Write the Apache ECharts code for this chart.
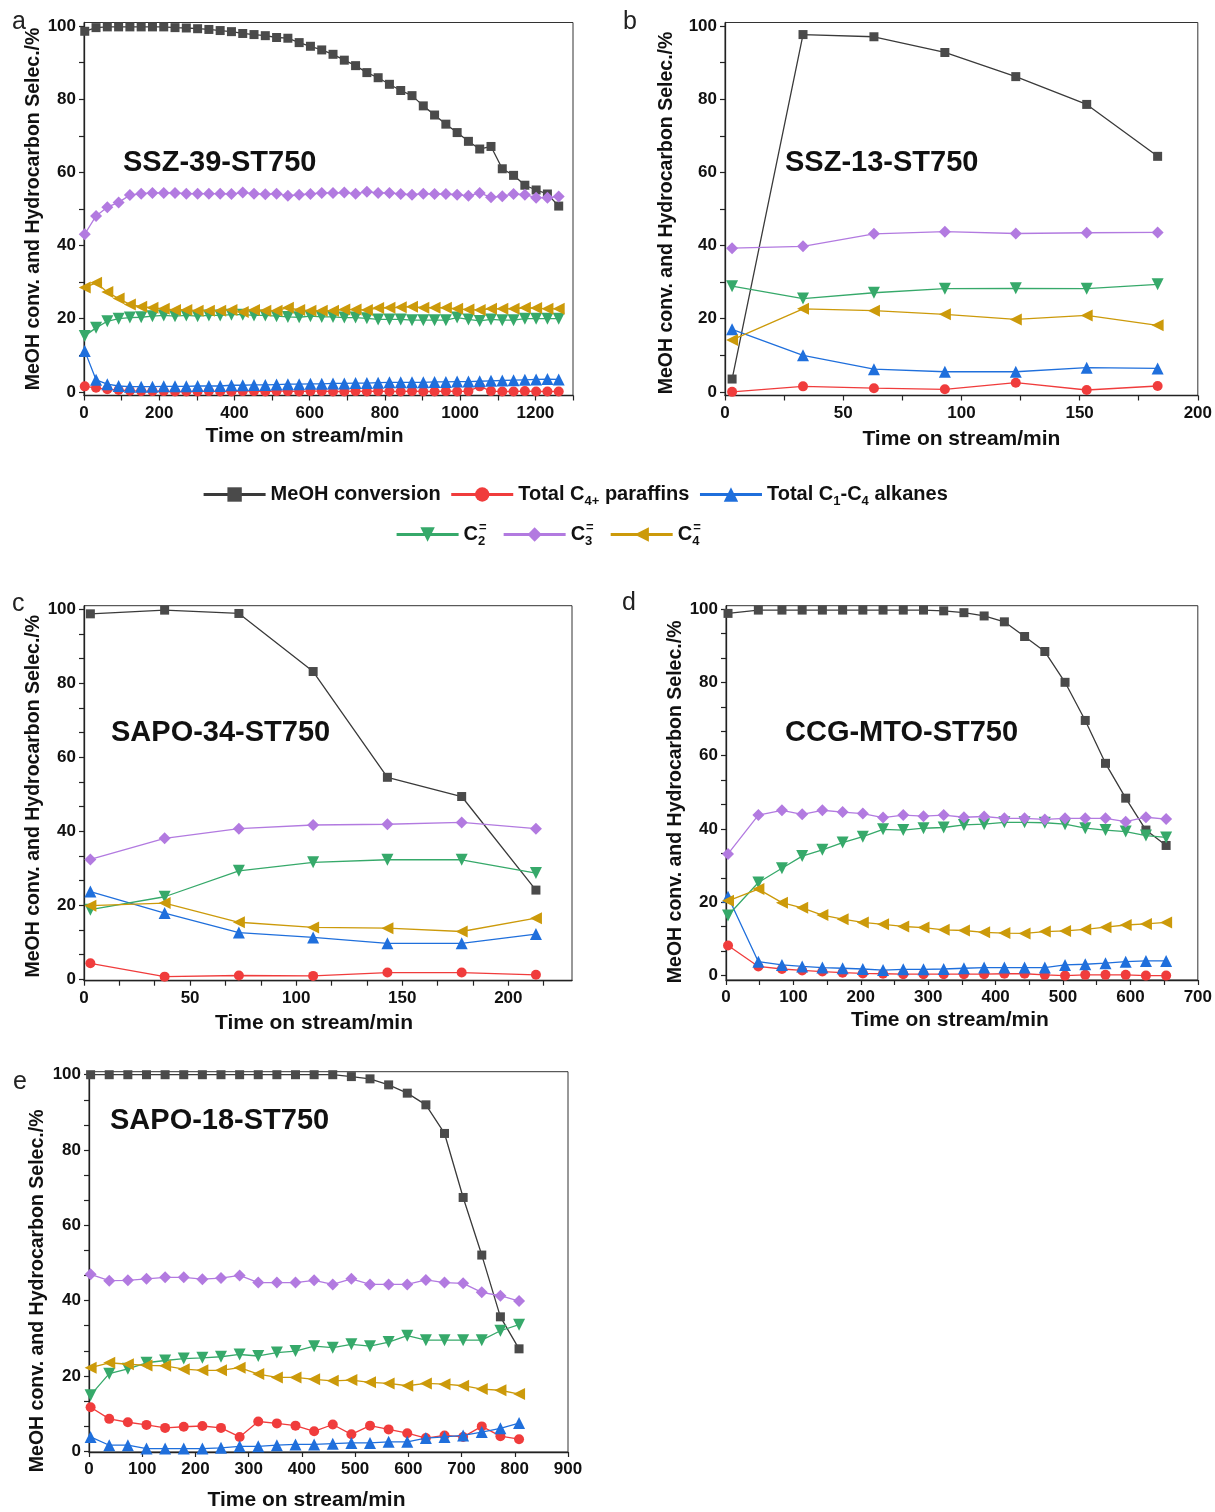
<!DOCTYPE html>
<html>
<head>
<meta charset="utf-8">
<title>MTO catalyst stability</title>
<script src="https://cdn.jsdelivr.net/npm/echarts@6/dist/echarts.min.js"></script>
<style>
  html, body { margin: 0; padding: 0; background: #fff; }
  #chart { width: 1215px; height: 1512px; }
</style>
</head>
<body>
<div id="chart"></div>
<script>
// ---- series names (legend order) ----
const seriesNames = ['MeOH conversion', 'Total C4+ paraffins', 'Total C1-C4 alkanes', 'C2=', 'C3=', 'C4='];

// ---- (a) SSZ-39-ST750 ----
const timeA = [2, 32, 62, 92, 122, 152, 182, 212, 242, 272, 302, 332, 362, 392, 422, 452, 482, 512, 542, 572, 602, 632, 662, 692, 722, 752, 782, 812, 842, 872, 902, 932, 962, 992, 1022, 1052, 1082, 1112, 1142, 1172, 1202, 1232, 1262];
const meohA = [98.6, 99.6, 99.8, 99.8, 99.8, 99.8, 99.8, 99.8, 99.6, 99.5, 99.3, 99.1, 98.8, 98.5, 98.0, 97.7, 97.4, 96.9, 96.7, 95.5, 94.5, 93.5, 92.3, 90.7, 89.2, 87.3, 85.9, 84.1, 82.4, 81.0, 78.2, 75.7, 73.2, 70.9, 68.5, 66.4, 67.1, 61.0, 59.2, 56.5, 55.2, 54.1, 50.8];
const paraffinA = [1.5, 1.1, 0.7, 0.5, 0.3, 0.2, 0.2, 0.2, 0.1, 0.1, 0.1, 0.2, 0.1, 0.1, 0.2, 0.2, 0.1, 0.2, 0.2, 0.1, 0.2, 0.2, 0.1, 0.1, 0.2, 0.1, 0.2, 0.1, 0.1, 0.2, 0.1, 0.1, 0.2, 0.1, 0.2, 1.5, 0.2, 0.1, 0.1, 0.2, 0.1, 0.1, 0.1];
const alkaneA = [11.2, 3.3, 2.1, 1.6, 1.4, 1.4, 1.4, 1.5, 1.5, 1.5, 1.6, 1.6, 1.6, 1.8, 1.8, 1.9, 1.9, 2.0, 2.1, 2.1, 2.2, 2.2, 2.3, 2.3, 2.4, 2.4, 2.5, 2.6, 2.6, 2.6, 2.6, 2.7, 2.7, 2.8, 2.8, 2.9, 3.0, 3.1, 3.2, 3.3, 3.4, 3.5, 3.4];
const c2A = [15.3, 17.5, 19.3, 20.0, 20.3, 20.4, 20.7, 20.9, 20.7, 20.9, 20.7, 20.9, 20.9, 21.1, 21.1, 20.9, 20.9, 20.7, 20.5, 20.4, 20.7, 20.5, 20.5, 20.3, 20.3, 20.1, 19.8, 19.8, 19.8, 19.6, 19.6, 19.6, 19.6, 20.3, 19.8, 19.4, 19.8, 19.6, 19.6, 20.0, 20.0, 20.0, 20.0];
const c3A = [43.1, 48.1, 50.5, 51.8, 53.8, 54.2, 54.4, 54.4, 54.4, 54.2, 54.2, 54.2, 54.2, 54.1, 54.5, 54.2, 54.0, 54.2, 53.6, 53.9, 54.1, 54.4, 54.4, 54.5, 54.2, 54.7, 54.4, 54.4, 54.1, 53.9, 54.2, 54.1, 54.1, 53.9, 53.6, 54.4, 53.2, 53.5, 54.1, 53.9, 53.1, 53.1, 53.4];
const c4A = [28.5, 29.8, 27.3, 25.5, 23.9, 23.3, 23.0, 22.7, 22.4, 22.4, 22.2, 22.2, 22.2, 22.4, 21.8, 22.4, 22.2, 22.2, 23.0, 22.4, 22.2, 22.2, 22.2, 22.5, 22.5, 22.4, 22.9, 23.0, 23.1, 23.3, 23.0, 23.0, 23.0, 22.7, 22.5, 22.4, 22.7, 22.7, 22.7, 23.0, 22.9, 22.7, 22.7];

// ---- (b) SSZ-13-ST750 ----
const timeB = [3, 33, 63, 93, 123, 153, 183];
const meohB = [3.5, 97.7, 97.1, 92.8, 86.2, 78.6, 64.4];
const paraffinB = [0.0, 1.5, 1.0, 0.7, 2.5, 0.5, 1.6];
const alkaneB = [17.1, 10.0, 6.2, 5.5, 5.5, 6.6, 6.4];
const c2B = [28.9, 25.5, 27.1, 28.2, 28.3, 28.2, 29.4];
const c3B = [39.3, 39.8, 43.2, 43.8, 43.3, 43.5, 43.6];
const c4B = [14.2, 22.7, 22.2, 21.2, 19.8, 20.9, 18.2];

// ---- (c) SAPO-34-ST750 ----
const timeC = [3, 38, 73, 108, 143, 178, 213];
const meohC = [98.8, 99.8, 98.9, 83.2, 54.6, 49.4, 24.1];
const paraffinC = [4.3, 0.7, 1.0, 0.9, 1.8, 1.8, 1.2];
const alkaneC = [23.7, 17.9, 12.6, 11.3, 9.7, 9.7, 12.2];
const c2C = [18.8, 22.3, 29.3, 31.6, 32.3, 32.3, 28.7];
const c3C = [32.4, 38.1, 40.7, 41.7, 41.9, 42.4, 40.7];
const c4C = [19.9, 20.6, 15.4, 14.0, 13.8, 12.9, 16.5];

// ---- (d) CCG-MTO-ST750 ----
const timeD = [3, 48, 83, 113, 143, 173, 203, 233, 263, 293, 323, 353, 383, 413, 443, 473, 503, 533, 563, 593, 623, 653];
const meohD = [98.8, 99.7, 99.7, 99.7, 99.7, 99.7, 99.7, 99.7, 99.7, 99.7, 99.5, 99.0, 98.1, 96.5, 92.5, 88.4, 80.0, 69.6, 57.9, 48.4, 39.7, 35.5];
const paraffinD = [8.2, 2.5, 1.8, 1.4, 1.1, 0.8, 0.6, 0.5, 0.4, 0.4, 0.4, 0.4, 0.4, 0.5, 0.5, 0.2, 0.0, 0.2, 0.2, 0.2, 0.0, 0.0];
const alkaneD = [21.5, 3.8, 2.9, 2.5, 2.2, 2.0, 1.8, 1.5, 1.7, 1.7, 1.8, 2.0, 2.2, 2.2, 2.2, 2.2, 2.9, 3.1, 3.4, 3.8, 4.0, 4.0];
const c2D = [16.4, 25.4, 29.3, 32.6, 34.3, 36.3, 37.9, 39.9, 39.7, 40.2, 40.4, 41.1, 41.3, 41.8, 41.8, 41.7, 41.3, 40.2, 39.7, 39.3, 38.2, 37.7];
const c3D = [33.2, 43.8, 45.1, 44.0, 45.1, 44.6, 44.2, 43.1, 43.8, 43.5, 43.8, 43.2, 43.4, 42.9, 42.9, 42.6, 42.9, 42.9, 42.9, 42.0, 43.2, 42.7];
const c4D = [20.4, 23.6, 19.9, 18.5, 16.5, 15.4, 14.5, 14.0, 13.4, 13.1, 12.5, 12.3, 11.8, 11.6, 11.5, 12.0, 12.2, 12.6, 13.2, 13.8, 14.1, 14.5];

// ---- (e) SAPO-18-ST750 ----
const timeE = [3, 38, 73, 108, 143, 178, 213, 248, 283, 318, 353, 388, 423, 458, 493, 528, 563, 598, 633, 668, 703, 738, 773, 808];
const meohE = [100, 100, 100, 100, 100, 100, 100, 100, 100, 100, 100, 100, 100, 100, 99.5, 98.9, 97.3, 95.1, 92.0, 84.4, 67.4, 52.1, 35.7, 27.2];
const paraffinE = [11.7, 8.6, 7.7, 7.0, 6.2, 6.5, 6.7, 6.2, 3.8, 7.9, 7.4, 6.8, 5.3, 7.1, 4.5, 6.8, 5.8, 4.8, 3.5, 4.2, 3.8, 6.6, 4.0, 3.2];
const alkaneE = [3.8, 1.6, 1.6, 0.7, 0.7, 0.7, 0.7, 0.9, 1.3, 1.3, 1.6, 1.8, 1.8, 2.0, 2.2, 2.2, 2.5, 2.5, 3.5, 3.8, 4.2, 5.1, 6.1, 7.5];
const c2E = [14.9, 20.6, 21.9, 23.5, 24.1, 24.6, 24.8, 25.1, 25.7, 25.3, 26.2, 26.6, 27.9, 27.5, 28.4, 27.9, 29.0, 30.7, 29.5, 29.5, 29.5, 29.5, 32.0, 33.6];
const c3E = [47.0, 45.3, 45.4, 45.8, 46.2, 46.2, 45.7, 46.0, 46.7, 44.8, 44.8, 44.8, 45.4, 44.3, 45.8, 44.3, 44.3, 44.3, 45.5, 44.8, 44.6, 42.2, 41.3, 39.9];
const c4E = [22.2, 23.5, 23.1, 22.8, 22.7, 21.8, 21.5, 21.5, 22.2, 20.5, 19.6, 19.6, 19.1, 18.7, 18.9, 18.3, 18.0, 17.4, 18.0, 17.8, 17.4, 16.5, 16.2, 15.2];

// ---- tick labels and tick positions ----
const yLabels = [0, 20, 40, 60, 80, 100];
const yTicksFine = [0, 10, 20, 30, 40, 50, 60, 70, 80, 90, 100];
const yTicksThird = [0, 6.67, 13.33, 20, 26.67, 33.33, 40, 46.67, 53.33, 60, 66.67, 73.33, 80, 86.67, 93.33, 100];
const xLabelsA = [0, 200, 400, 600, 800, 1000, 1200];
const xTicksA = [0, 100, 200, 300, 400, 500, 600, 700, 800, 900, 1000, 1100, 1200, 1300];
const xLabelsB = [0, 50, 100, 150, 200];
const xTicksB = [0, 25, 50, 75, 100, 125, 150, 175, 200];
const xLabelsC = [0, 50, 100, 150, 200];
const xTicksC = [0, 16.67, 33.33, 50, 66.67, 83.33, 100, 116.67, 133.33, 150, 166.67, 183.33, 200, 216.67];
const xLabelsD = [0, 100, 200, 300, 400, 500, 600, 700];
const xTicksD = [0, 50, 100, 150, 200, 250, 300, 350, 400, 450, 500, 550, 600, 650, 700];
const xLabelsE = [0, 100, 200, 300, 400, 500, 600, 700, 800, 900];
const xTicksE = [0, 100, 200, 300, 400, 500, 600, 700, 800, 900];

const panelData = [
  { letter: 'a', title: 'SSZ-39-ST750', time: timeA, values: [meohA, paraffinA, alkaneA, c2A, c3A, c4A], xLabels: xLabelsA, xTicks: xTicksA, yTicks: yTicksFine },
  { letter: 'b', title: 'SSZ-13-ST750', time: timeB, values: [meohB, paraffinB, alkaneB, c2B, c3B, c4B], xLabels: xLabelsB, xTicks: xTicksB, yTicks: yTicksFine },
  { letter: 'c', title: 'SAPO-34-ST750', time: timeC, values: [meohC, paraffinC, alkaneC, c2C, c3C, c4C], xLabels: xLabelsC, xTicks: xTicksC, yTicks: yTicksThird },
  { letter: 'd', title: 'CCG-MTO-ST750', time: timeD, values: [meohD, paraffinD, alkaneD, c2D, c3D, c4D], xLabels: xLabelsD, xTicks: xTicksD, yTicks: yTicksThird },
  { letter: 'e', title: 'SAPO-18-ST750', time: timeE, values: [meohE, paraffinE, alkaneE, c2E, c3E, c4E], xLabels: xLabelsE, xTicks: xTicksE, yTicks: yTicksThird }
];

// ---- layout of each panel (pixels) and axis ranges ----
const panelLayout = [
  { left: 84,  top: 22.5,  width: 489, height: 373,   xMax: 1300, yMin: -1,    yMax: 101,   xNameShift: 48, xNameGap: 30, yNameGap: 36, yNameShift: 0,
    letterPos: [12, 22], titlePos: [123, 163] },
  { left: 725, top: 22.5,  width: 475, height: 373,   xMax: 200,  yMin: -1,    yMax: 101,   xNameShift: 0,  xNameGap: 33, yNameGap: 48, yNameShift: 8,
    letterPos: [623, 22], titlePos: [785, 163] },
  { left: 84,  top: 605.7, width: 488, height: 375,   xMax: 230,  yMin: -0.4,  yMax: 101,   xNameShift: 28, xNameGap: 32, yNameGap: 35, yNameShift: 6,
    letterPos: [12, 604], titlePos: [111, 733] },
  { left: 726, top: 605.7, width: 474, height: 374.3, xMax: 700,  yMin: -1.2,  yMax: 100.9, xNameShift: 24, xNameGap: 30, yNameGap: 40, yNameShift: 18,
    letterPos: [622, 603], titlePos: [785, 733] },
  { left: 89,  top: 1071.7, width: 479, height: 383.3, xMax: 900, yMin: -0.2,  yMax: 100.8, xNameShift: 44, xNameGap: 38, yNameGap: 41, yNameShift: 58,
    letterPos: [13, 1082], titlePos: [110, 1121] }
];

// ---- marker / line styles per series ----
const seriesStyle = [
  { color: '#4a4a4a', line: '#3a3a3a', symbol: 'rect',     size: 9,  rotate: 0 },
  { color: '#f03c3c', line: '#f03c3c', symbol: 'circle',   size: 10, rotate: 0 },
  { color: '#1f6fdc', line: '#1f6fdc', symbol: 'triangle', size: 12, rotate: 0 },
  { color: '#36a96a', line: '#36a96a', symbol: 'triangle', size: 12, rotate: 180 },
  { color: '#b27ae0', line: '#b27ae0', symbol: 'diamond',  size: 12, rotate: 0 },
  { color: '#cc9a0a', line: '#cc9a0a', symbol: 'triangle', size: 12, rotate: 90 }
];

const FONT = '"Liberation Sans", Arial, Helvetica, sans-serif';
const AXIS_COLOR = '#222';

const grids = [], xAxes = [], yAxes = [], series = [], graphics = [];

panelData.forEach((p, i) => {
  const L = panelLayout[i];
  grids.push({
    left: L.left, top: L.top, width: L.width, height: L.height,
    show: true, borderColor: '#333', borderWidth: 1, backgroundColor: 'transparent'
  });
  xAxes.push({
    type: 'value', gridIndex: i, min: 0, max: L.xMax,
    axisLine: { show: true, onZero: false, lineStyle: { color: AXIS_COLOR, width: 1.3 } },
    axisTick: { show: true, inside: false, length: 5, customValues: p.xTicks, lineStyle: { color: AXIS_COLOR, width: 1.2 } },
    axisLabel: { customValues: p.xLabels, formatter: v => String(v), margin: 9, fontSize: 17, fontWeight: 'bold', color: '#111', fontFamily: FONT },
    splitLine: { show: false },
    name: 'Time on stream/min', nameLocation: 'middle', nameGap: L.xNameGap,
    nameTextStyle: { fontSize: 21, fontWeight: 'bold', color: '#111', fontFamily: FONT, padding: [0, L.xNameShift, 0, 0] }
  });
  yAxes.push({
    type: 'value', gridIndex: i, min: L.yMin, max: L.yMax,
    axisLine: { show: true, onZero: false, lineStyle: { color: AXIS_COLOR, width: 1.3 } },
    axisTick: { show: true, inside: false, length: 5, customValues: p.yTicks, lineStyle: { color: AXIS_COLOR, width: 1.2 } },
    axisLabel: { customValues: yLabels, formatter: v => String(v), margin: 8, fontSize: 17, fontWeight: 'bold', color: '#111', fontFamily: FONT },
    splitLine: { show: false },
    name: 'MeOH conv. and Hydrocarbon Selec./%', nameLocation: 'middle', nameGap: L.yNameGap,
    nameTextStyle: { fontSize: 19.5, fontWeight: 'bold', color: '#111', fontFamily: FONT, padding: [0, L.yNameShift, 0, 0] }
  });

  p.values.forEach((vals, k) => {
    const s = seriesStyle[k];
    series.push({
      type: 'line', name: seriesNames[k], xAxisIndex: i, yAxisIndex: i,
      data: p.time.map((t, j) => [t, vals[j]]),
      symbol: s.symbol, symbolSize: s.size, symbolRotate: s.rotate, showSymbol: true,
      itemStyle: { color: s.color },
      lineStyle: { color: s.line, width: 1.3 },
      clip: false, animation: false, z: 2 + k
    });
  });

  graphics.push({
    type: 'text', x: L.letterPos[0], y: L.letterPos[1],
    style: { text: p.letter, fontSize: 25, fontFamily: FONT, fill: '#222', verticalAlign: 'middle' }
  });
  graphics.push({
    type: 'text', x: L.titlePos[0], y: L.titlePos[1],
    style: { text: p.title, fontSize: 29, fontWeight: 'bold', fontFamily: FONT, fill: '#111', verticalAlign: 'middle' }
  });
});

// legend labels with chemical sub/superscripts
const legendRich = {
  sub:   { fontSize: 13, fontWeight: 'bold', fontFamily: FONT, color: '#111', lineHeight: 13, verticalAlign: 'bottom' },
  subst: { fontSize: 13, fontWeight: 'bold', fontFamily: FONT, color: '#111', lineHeight: 13, verticalAlign: 'bottom', width: 1, align: 'left' },
  sup:   { fontSize: 13, fontWeight: 'bold', fontFamily: FONT, color: '#111', lineHeight: 13, verticalAlign: 'top', width: 9, align: 'left' }
};
const legendText = {
  'MeOH conversion': 'MeOH conversion',
  'Total C4+ paraffins': 'Total C{sub|4+} paraffins',
  'Total C1-C4 alkanes': 'Total C{sub|1}-C{sub|4} alkanes',
  'C2=': 'C{subst|2}{sup|=}',
  'C3=': 'C{subst|3}{sup|=}',
  'C4=': 'C{subst|4}{sup|=}'
};
const legendBase = {
  orient: 'horizontal', itemWidth: 62, itemHeight: 18, selectedMode: false,
  lineStyle: { width: 3.2 },
  textStyle: { fontSize: 20, fontWeight: 'bold', color: '#111', fontFamily: FONT, lineHeight: 27, rich: legendRich },
  formatter: name => legendText[name]
};

const chart = echarts.init(document.getElementById('chart'), null, { renderer: 'canvas' });
chart.setOption({
  backgroundColor: '#fff',
  animation: false,
  textStyle: { fontFamily: FONT },
  grid: grids,
  xAxis: xAxes,
  yAxis: yAxes,
  legend: [
    Object.assign({}, legendBase, { data: seriesNames.slice(0, 3), left: 197, top: 476, itemGap: 9 }),
    Object.assign({}, legendBase, { data: seriesNames.slice(3), left: 390, top: 516, itemGap: 14 })
  ],
  graphic: graphics,
  series: series
});
</script>
</body>
</html>
